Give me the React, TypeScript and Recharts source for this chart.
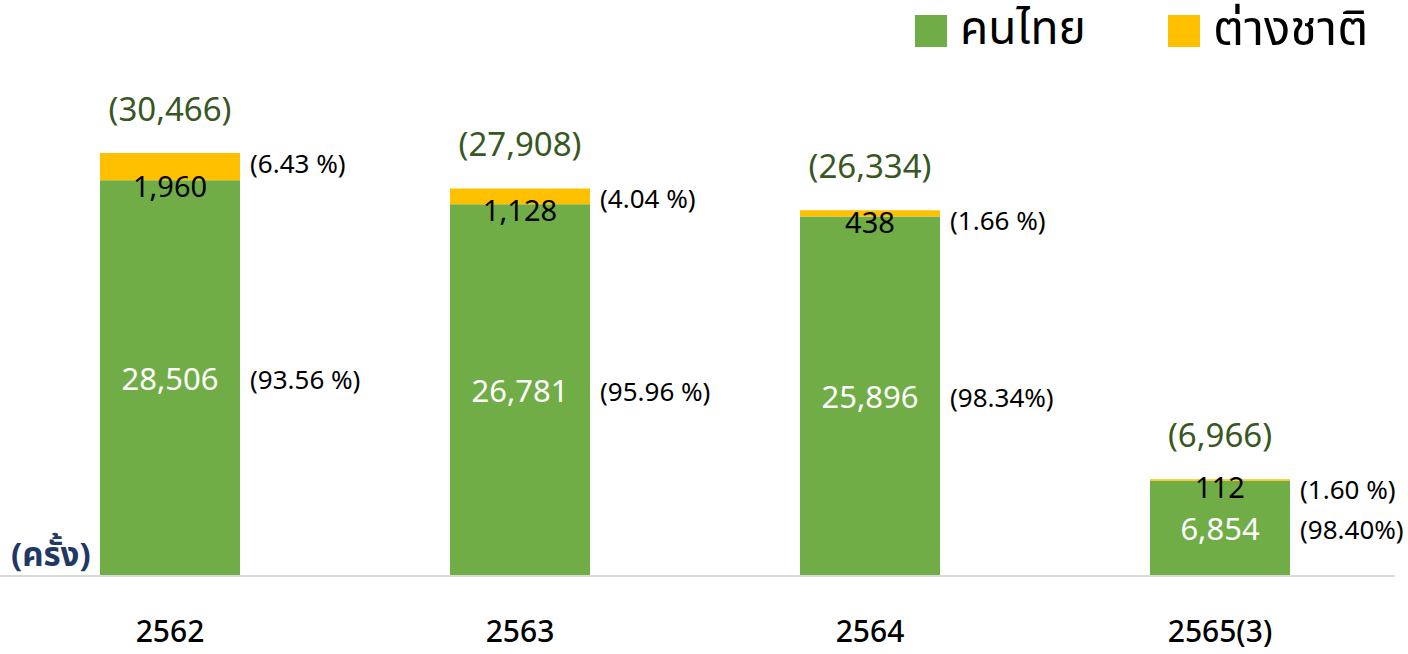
import { BarChart, Bar, XAxis, YAxis, LabelList } from "recharts"

const years = ["2562", "2563", "2564", "2565(3)"]
const thaiCounts = [28506, 26781, 25896, 6854]
const foreignCounts = [1960, 1128, 438, 112]
const totalLabels = ["(30,466)", "(27,908)", "(26,334)", "(6,966)"]
const thaiPctLabels = ["(93.56 %)", "(95.96 %)", "(98.34%)", "(98.40%)"]
const foreignPctLabels = ["(6.43 %)", "(4.04 %)", "(1.66 %)", "(1.60 %)"]

const GREEN = "#70AD47"
const YELLOW = "#FFC000"
const FONT = "'Noto Sans Thai', 'Noto Sans', 'Open Sans', sans-serif"

const data = years.map((year, i) => ({
  year,
  thai: thaiCounts[i],
  foreign: foreignCounts[i],
}))

const fmt = (v: number) => v.toLocaleString("en-US")

function ThaiLabel(props: any) {
  const { x, y, width, height, value, index } = props
  return (
    <g>
      <text x={x + width / 2} y={y + height / 2 + 2} fill="#fff" fontSize={31} textAnchor="middle" dominantBaseline="central" fontFamily={FONT}>
        {fmt(value)}
      </text>
      <text x={x + width + 10} y={y + height / 2 + 3} fill="#000" fontSize={26} dominantBaseline="central" fontFamily={FONT}>
        {thaiPctLabels[index]}
      </text>
    </g>
  )
}

function ForeignLabel(props: any) {
  const { x, y, width, height, value, index } = props
  return (
    <g>
      <text x={x + width / 2} y={y - 42} fill="#385723" fontSize={33} textAnchor="middle" dominantBaseline="central" fontFamily={FONT}>
        {totalLabels[index]}
      </text>
      <text x={x + width / 2} y={y + height + 8} fill="#000" fontSize={29} textAnchor="middle" dominantBaseline="central" fontFamily={FONT}>
        {fmt(value)}
      </text>
      <text x={x + width + 10} y={y + 12} fill="#000" fontSize={26} dominantBaseline="central" fontFamily={FONT}>
        {foreignPctLabels[index]}
      </text>
    </g>
  )
}

function YearTick(props: any) {
  const { x, y, payload } = props
  return (
    <text x={x} y={y + 49} fill="#000" fontSize={30} fontWeight={500} textAnchor="middle" dominantBaseline="central" fontFamily={FONT}>
      {payload.value}
    </text>
  )
}

export default function App() {
  return (
    <div style={{ position: "absolute", left: 0, top: 0, width: 1408, height: 654, background: "#fff", fontFamily: FONT }}>
      <BarChart width={1408} height={654} data={data} margin={{ top: 90, right: 13, bottom: 0, left: -5 }}>
        <XAxis dataKey="year" height={78} axisLine={{ stroke: "#d9d9d9", strokeWidth: 2 }} tickLine={false} tick={<YearTick />} interval={0} />
        <YAxis hide domain={[0, 35000]} />
        <Bar dataKey="thai" stackId="a" fill={GREEN} barSize={140} isAnimationActive={false}>
          <LabelList dataKey="thai" content={<ThaiLabel />} />
        </Bar>
        <Bar dataKey="foreign" stackId="a" fill={YELLOW} barSize={140} isAnimationActive={false}>
          <LabelList dataKey="foreign" content={<ForeignLabel />} />
        </Bar>
      </BarChart>

      <div style={{ position: "absolute", left: 915, top: 15, width: 32, height: 32, background: GREEN }} />
      <div style={{ position: "absolute", left: 960, top: 0, fontSize: 46, lineHeight: "60px", color: "#000" }}>คนไทย</div>
      <div style={{ position: "absolute", left: 1168, top: 15, width: 32, height: 32, background: YELLOW }} />
      <div style={{ position: "absolute", left: 1213, top: 0, fontSize: 49, lineHeight: "60px", color: "#000" }}>ต่างชาติ</div>

      <div style={{ position: "absolute", left: 11, top: 534, fontSize: 33, fontWeight: 700, lineHeight: "44px", color: "#1F3864" }}>(ครั้ง)</div>
    </div>
  )
}
